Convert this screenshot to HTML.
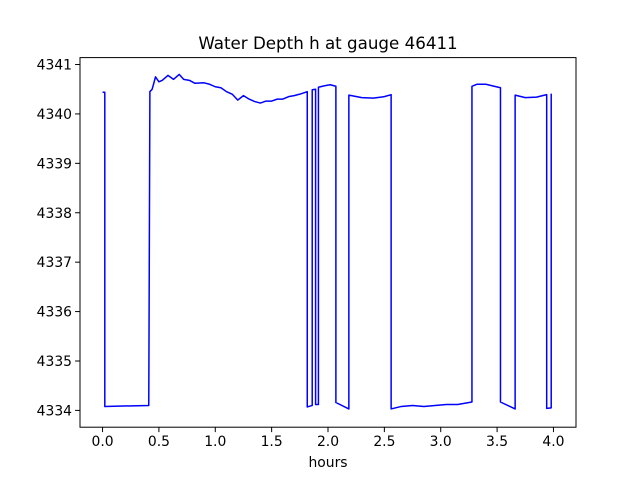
<!DOCTYPE html>
<html><head><meta charset="utf-8"><style>
html,body{margin:0;padding:0;background:#fff;}
svg{display:block;font-family:"DejaVu Sans","Liberation Sans",sans-serif;}
</style></head><body>
<svg id="chart" width="640" height="480">
<rect x="0" y="0" width="640" height="480" fill="#fff"/>
<text x="328" y="49" font-size="16.7" text-anchor="middle">Water Depth h at gauge 46411</text>
<g id="xt"></g>
<g id="yt"></g>
<path id="line" fill="none" stroke="#0000ff" stroke-width="1.5" stroke-linejoin="round"/>
<rect x="80" y="57.6" width="496" height="369.6" fill="none" stroke="#000" stroke-width="1"/>
<text x="328" y="467" font-size="13.9" text-anchor="middle">hours</text>
</svg>
<script>
const times=[0,0.02,0.02,0.41,0.42,0.44,0.47,0.50,0.53,0.58,0.63,0.68,0.72,0.77,0.82,0.9,0.95,1.0,1.05,1.1,1.15,1.2,1.25,1.3,1.35,1.4,1.45,1.5,1.55,1.6,1.65,1.7,1.75,1.816,1.816,1.86,1.86,1.89,1.89,1.915,1.915,1.97,2.02,2.07,2.07,2.185,2.185,2.3,2.4,2.5,2.56,2.56,2.65,2.75,2.85,2.95,3.05,3.15,3.277,3.277,3.32,3.4,3.53,3.53,3.66,3.66,3.75,3.85,3.94,3.94,3.98,3.98];
const depths=[4340.44,4340.44,4334.08,4334.1,4340.45,4340.5,4340.75,4340.65,4340.68,4340.78,4340.7,4340.8,4340.7,4340.68,4340.62,4340.63,4340.6,4340.55,4340.53,4340.45,4340.4,4340.28,4340.37,4340.3,4340.25,4340.22,4340.26,4340.26,4340.3,4340.3,4340.35,4340.37,4340.4,4340.45,4334.07,4334.1,4340.49,4340.5,4334.12,4334.12,4340.54,4340.57,4340.59,4340.56,4334.16,4334.03,4340.38,4340.33,4340.32,4340.35,4340.39,4334.03,4334.08,4334.1,4334.08,4334.1,4334.12,4334.12,4334.17,4340.56,4340.6,4340.6,4340.53,4334.17,4334.03,4340.38,4340.33,4340.34,4340.39,4334.04,4334.05,4340.41];
const xTicks=[0.0,0.5,1.0,1.5,2.0,2.5,3.0,3.5,4.0];
const xTickLabels=["0.0","0.5","1.0","1.5","2.0","2.5","3.0","3.5","4.0"];
const yTicks=[4334,4335,4336,4337,4338,4339,4340,4341];
const yTickLabels=["4334","4335","4336","4337","4338","4339","4340","4341"];
const X0=80,X1=576,Y0=427.2,Y1=57.6,xmin=-0.2,xmax=4.2,ymin=4333.66,ymax=4341.14;
function sx(v){return X0+(v-xmin)/(xmax-xmin)*(X1-X0);}
function sy(v){return Y0-(v-ymin)/(ymax-ymin)*(Y0-Y1);}
const NS="http://www.w3.org/2000/svg";
let d="";
times.forEach((t,i)=>{d+=(i?"L":"M")+sx(t).toFixed(2)+","+sy(depths[i]).toFixed(2);});
document.getElementById("line").setAttribute("d",d);
const xt=document.getElementById("xt"),yt=document.getElementById("yt");
xTicks.forEach((v,i)=>{
 const l=document.createElementNS(NS,"line");
 l.setAttribute("x1",sx(v));l.setAttribute("x2",sx(v));l.setAttribute("y1",Y0);l.setAttribute("y2",Y0+4.9);l.setAttribute("stroke","#000");
 
 
 xt.appendChild(l);
 const tx=document.createElementNS(NS,"text");
 tx.setAttribute("x",sx(v));tx.setAttribute("y",Y0+19);tx.setAttribute("font-size","13.9");tx.setAttribute("text-anchor","middle");
 tx.textContent=xTickLabels[i];
 
 
 xt.appendChild(tx);
});
yTicks.forEach((v,i)=>{
 const l=document.createElementNS(NS,"line");
 l.setAttribute("x1",X0-4.9);l.setAttribute("x2",X0);l.setAttribute("y1",sy(v));l.setAttribute("y2",sy(v));l.setAttribute("stroke","#000");
 
 
 yt.appendChild(l);
 const tx=document.createElementNS(NS,"text");
 tx.setAttribute("x",X0-8);tx.setAttribute("y",sy(v)+5);tx.setAttribute("font-size","13.9");tx.setAttribute("text-anchor","end");
 tx.textContent=yTickLabels[i];
 
 
 yt.appendChild(tx);
});
</script>
</body></html>
